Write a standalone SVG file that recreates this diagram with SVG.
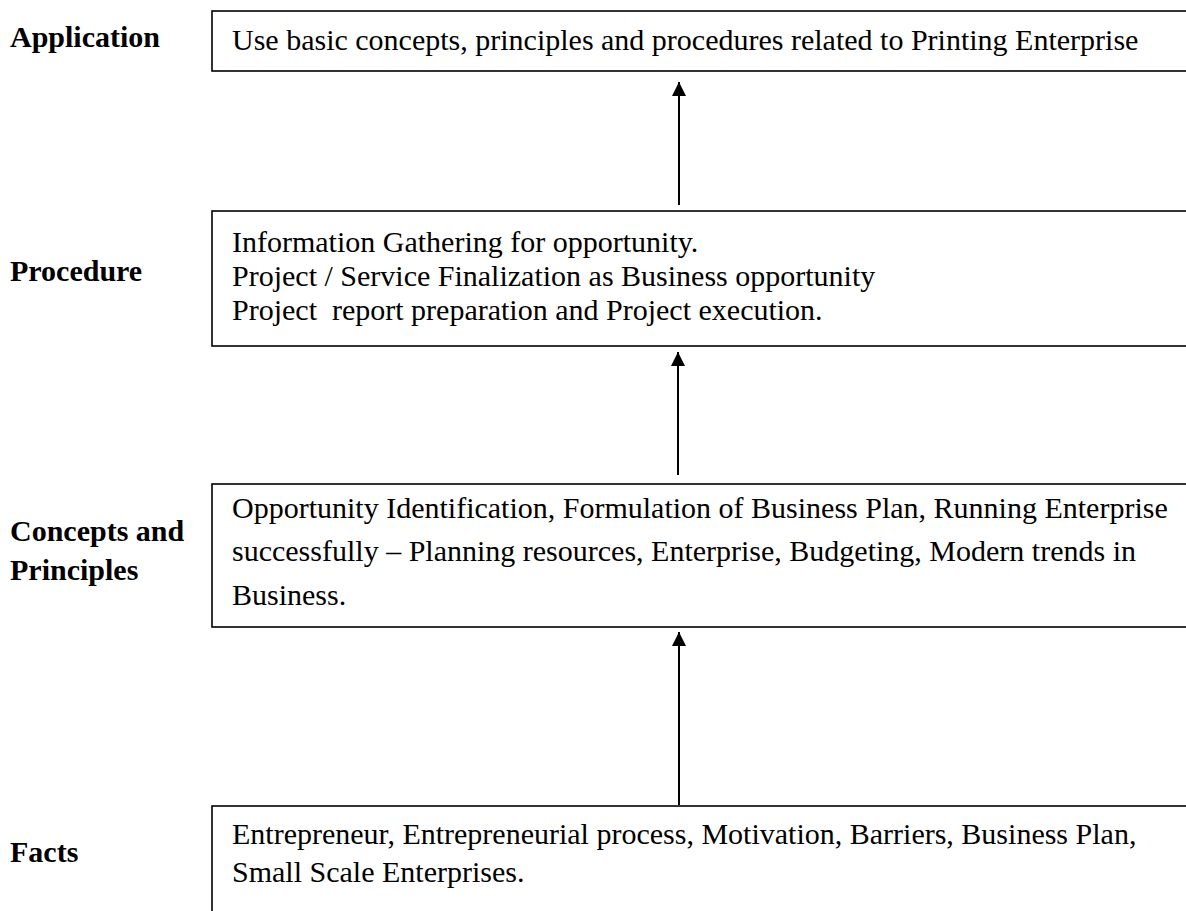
<svg xmlns="http://www.w3.org/2000/svg" width="1186" height="911" viewBox="0 0 1186 911">
  <style>
    .box { fill: #ffffff; stroke: #000000; stroke-width: 1.6; }
    .label { font-family: "Liberation Serif", "Times New Roman", serif; font-size: 30px; font-weight: bold; fill: #000000; }
    .body { font-family: "Liberation Serif", "Times New Roman", serif; font-size: 30px; fill: #000000; }
    .link { stroke: #000000; stroke-width: 2; fill: none; marker-end: url(#head); }
  </style>
  <defs>
    <marker id="head" markerUnits="userSpaceOnUse" markerWidth="15" markerHeight="15" refX="14" refY="7" orient="auto">
      <path d="M0,0 L14,7 L0,14 Z" fill="#000000"/>
    </marker>
  </defs>
  <rect width="1186" height="911" fill="#ffffff"/>

  <!-- level: application -->
  <g id="application">
    <text class="label" x="10" y="47">Application</text>
    <rect class="box" x="212" y="11" width="990" height="60"/>
    <text class="body" x="232" y="50">Use basic concepts, principles and procedures related to Printing Enterprise</text>
  </g>

  <!-- level: procedure -->
  <g id="procedure">
    <text class="label" x="10" y="281">Procedure</text>
    <rect class="box" x="212" y="211" width="990" height="135"/>
    <text class="body" x="232" y="252">Information Gathering for opportunity.</text>
    <text class="body" x="232" y="286">Project / Service Finalization as Business opportunity</text>
    <text class="body" x="232" y="320" xml:space="preserve">Project  report preparation and Project execution.</text>
  </g>

  <!-- level: concepts and principles -->
  <g id="concepts">
    <text class="label" x="10" y="541">Concepts and</text>
    <text class="label" x="10" y="580">Principles</text>
    <rect class="box" x="212" y="484" width="990" height="143"/>
    <text class="body" x="232" y="518">Opportunity Identification, Formulation of Business Plan, Running Enterprise</text>
    <text class="body" x="232" y="561">successfully – Planning resources, Enterprise, Budgeting, Modern trends in</text>
    <text class="body" x="232" y="605">Business.</text>
  </g>

  <!-- level: facts -->
  <g id="facts">
    <text class="label" x="10" y="862">Facts</text>
    <rect class="box" x="212" y="806" width="990" height="130"/>
    <text class="body" x="232" y="844">Entrepreneur, Entrepreneurial process, Motivation, Barriers, Business Plan,</text>
    <text class="body" x="232" y="882">Small Scale Enterprises.</text>
  </g>

  <!-- upward connectors between levels -->
  <g id="connectors">
    <line class="link" x1="679" y1="205" x2="679" y2="82"/>
    <line class="link" x1="678" y1="475" x2="678" y2="352"/>
    <line class="link" x1="679" y1="805" x2="679" y2="632"/>
  </g>
</svg>
